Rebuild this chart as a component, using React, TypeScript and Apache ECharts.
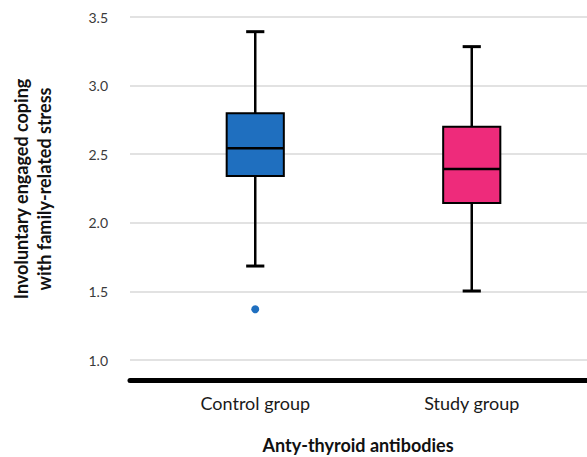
import React, { useEffect, useRef } from "react";
import * as echarts from "echarts";

const categories = ["Control group", "Study group"];
const lowerWhisker = [1.685, 1.503];
const q1 = [2.341, 2.144];
const median = [2.543, 2.392];
const q3 = [2.798, 2.7];
const upperWhisker = [3.393, 3.284];
const outliers: [number, number][] = [[0, 1.37]];
const colors = ["#1F6FBF", "#EE2B7B"];
const yTicks = [1.0, 1.5, 2.0, 2.5, 3.0, 3.5];

const FONT = "Lato, 'Noto Sans', sans-serif";

export default function App() {
  const ref = useRef<HTMLDivElement>(null);
  useEffect(() => {
    if (!ref.current) return;
    const chart = echarts.init(ref.current, null, { renderer: "svg" });
    const boxData = categories.map((_, i) => [
      i,
      lowerWhisker[i],
      q1[i],
      median[i],
      q3[i],
      upperWhisker[i],
    ]);
    const yMin = 0.85;
    const yMax = 3.5;
    const option: any = {
      animation: false,
      textStyle: { fontFamily: FONT },
      grid: [
        { left: 130, right: 0, top: 17, bottom: 76.4, outerBoundsMode: "none", containLabel: false },
        { left: 147, right: 7, top: 17, bottom: 76.4, outerBoundsMode: "none", containLabel: false },
      ],
      xAxis: [
        {
          gridIndex: 0,
          type: "value",
          min: 0,
          max: 1,
          axisLine: { show: true, onZero: false, lineStyle: { color: "#000", width: 5, cap: "round" } },
          axisLabel: { show: false },
          axisTick: { show: false },
          splitLine: { show: false },
        },
        {
          gridIndex: 1,
          type: "category",
          data: categories,
          axisLine: { show: false },
          axisTick: { show: false },
          axisLabel: { color: "#1a1a1a", fontSize: 18, margin: 13, fontFamily: FONT },
          splitLine: { show: false },
        },
      ],
      yAxis: [
        {
          gridIndex: 0,
          type: "value",
          min: yMin,
          max: yMax,
          axisLine: { show: false },
          axisTick: { show: false, customValues: yTicks },
          axisLabel: {
            customValues: yTicks,
            color: "#3a3a3a",
            fontSize: 14,
            margin: 22,
            fontFamily: FONT,
            formatter: (v: number) => v.toFixed(1),
          },
          splitLine: { show: true, lineStyle: { color: "#d9d9d9", width: 1.5 } },
        },
        {
          gridIndex: 1,
          type: "value",
          min: yMin,
          max: yMax,
          axisLine: { show: false },
          axisTick: { show: false },
          axisLabel: { show: false },
          splitLine: { show: false },
        },
      ],
      graphic: [
        {
          type: "text",
          x: 32,
          y: 189,
          rotation: Math.PI / 2,
          style: {
            text: "Involuntary engaged coping\nwith family-related stress",
            font: `bold 18px ${FONT}`,
            fill: "#111",
            align: "center",
            verticalAlign: "middle",
            lineHeight: 23,
          },
        },
        {
          type: "text",
          x: 358,
          y: 445,
          style: {
            text: "Anty-thyroid antibodies",
            font: `bold 18px ${FONT}`,
            fill: "#111",
            align: "center",
            verticalAlign: "middle",
          },
        },
      ],
      series: [
        {
          type: "custom",
          xAxisIndex: 1,
          yAxisIndex: 1,
          data: boxData,
          encode: { x: 0, y: [1, 2, 3, 4, 5] },
          renderItem: (params: any, api: any) => {
            const idx = api.value(0);
            const pLow = api.coord([idx, api.value(1)]);
            const pQ1 = api.coord([idx, api.value(2)]);
            const pMed = api.coord([idx, api.value(3)]);
            const pQ3 = api.coord([idx, api.value(4)]);
            const pHigh = api.coord([idx, api.value(5)]);
            const band = api.size([1, 0])[0];
            const bw = band * 0.264;
            const cw = band * 0.084;
            const cx = pMed[0];
            const lineStyle = { stroke: "#000", lineWidth: 2.5 };
            return {
              type: "group",
              children: [
                { type: "line", shape: { x1: cx, y1: pQ3[1], x2: cx, y2: pHigh[1] }, style: lineStyle },
                { type: "line", shape: { x1: cx - cw / 2, y1: pHigh[1], x2: cx + cw / 2, y2: pHigh[1] }, style: { stroke: "#000", lineWidth: 3 } },
                { type: "line", shape: { x1: cx, y1: pQ1[1], x2: cx, y2: pLow[1] }, style: lineStyle },
                { type: "line", shape: { x1: cx - cw / 2, y1: pLow[1], x2: cx + cw / 2, y2: pLow[1] }, style: { stroke: "#000", lineWidth: 3 } },
                {
                  type: "rect",
                  shape: { x: cx - bw / 2, y: pQ3[1], width: bw, height: pQ1[1] - pQ3[1] },
                  style: { fill: colors[idx], stroke: "#000", lineWidth: 2 },
                },
                { type: "line", shape: { x1: cx - bw / 2, y1: pMed[1], x2: cx + bw / 2, y2: pMed[1] }, style: lineStyle },
              ],
            };
          },
        },
        {
          type: "scatter",
          xAxisIndex: 1,
          yAxisIndex: 1,
          data: outliers,
          symbolSize: 8,
          itemStyle: { color: colors[0], opacity: 1 },
        },
      ],
    };
    chart.setOption(option);
    return () => chart.dispose();
  }, []);
  return (
    <div
      ref={ref}
      style={{ position: "fixed", left: 0, top: 0, width: 587, height: 457, background: "#fff" }}
    />
  );
}
